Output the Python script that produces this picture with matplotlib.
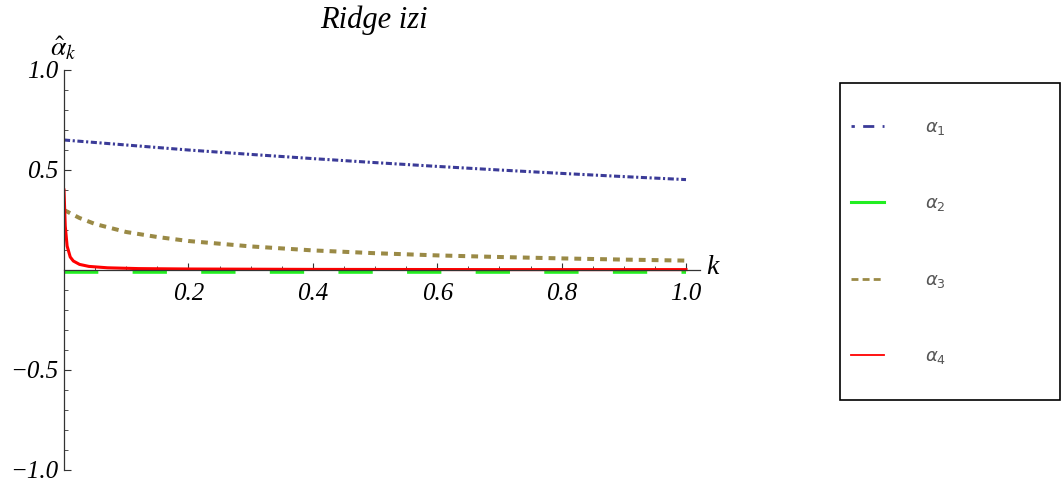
import numpy as np
import matplotlib
matplotlib.use("Agg")
import matplotlib.pyplot as plt
from matplotlib.lines import Line2D
from matplotlib.patches import Rectangle
from matplotlib.ticker import MultipleLocator

# values
k_grid = [0.0, 0.1, 0.2, 0.3, 0.4, 0.5, 0.6, 0.7, 0.8, 0.9, 1.0]
alpha1 = [0.65, 0.625, 0.60, 0.578, 0.557, 0.537, 0.518, 0.50, 0.483, 0.467, 0.452]

k_alpha2 = [0.0, 1.0]
alpha2 = [-0.01, -0.01]

k_alpha3 = [0.0, 0.025, 0.05, 0.1, 0.15, 0.2, 0.3, 0.4, 0.5, 0.6, 0.7, 0.8, 0.9, 1.0]
alpha3 = [0.30, 0.26, 0.23, 0.19, 0.165, 0.145, 0.118, 0.098, 0.084, 0.073, 0.065, 0.058, 0.052, 0.047]

k_alpha4 = [0.0, 0.002, 0.005, 0.01, 0.015, 0.025, 0.04, 0.07, 0.12, 0.2, 0.4, 0.7, 1.0]
alpha4 = [0.40, 0.22, 0.12, 0.065, 0.045, 0.028, 0.018, 0.011, 0.007, 0.005, 0.003, 0.002, 0.002]

labels = [r"$\alpha_1$", r"$\alpha_2$", r"$\alpha_3$", r"$\alpha_4$"]
colors = ["#3b3b98", "#22ee22", "#9a8a46", "#ff0000"]

xticks = [0.2, 0.4, 0.6, 0.8, 1.0]
xticklabels = ["0.2", "0.4", "0.6", "0.8", "1.0"]
yticks = [-1.0, -0.5, 0.5, 1.0]
yticklabels = ["\u22121.0", "\u22120.5", "0.5", "1.0"]

serif = "Liberation Serif"
W, H = 1063, 488
tick_font = {"family": serif, "style": "italic", "size": 18}

fig = plt.figure(figsize=(W / 100, H / 100), dpi=100)
ax = fig.add_axes([64 / W, 18 / H, 636 / W, 400 / H])

ax.plot(k_grid, alpha1, color=colors[0], lw=2.2, dashes=(2.0, 0.85, 0.7, 0.85))
ax.plot(k_alpha2, alpha2, color=colors[1], lw=2.6, dashes=(9.5, 9.5))
ax.plot(k_alpha3, alpha3, color=colors[2], lw=2.9, dashes=(1.7, 1.5))
ax.plot(k_alpha4, alpha4, color=colors[3], lw=2.2)

ax.set_xlim(0, 636 / 622)
ax.set_ylim(-1, 1)

# axes through origin, Mathematica style
for side in ["top", "right"]:
    ax.spines[side].set_visible(False)
ax.spines["left"].set_position(("data", 0))
ax.spines["bottom"].set_position(("data", 0))
for side in ["left", "bottom"]:
    ax.spines[side].set_color("#333333")
    ax.spines[side].set_linewidth(0.9)

ax.set_xticks(xticks)
ax.set_xticklabels(xticklabels, fontdict=tick_font)
ax.set_yticks(yticks)
ax.set_yticklabels(yticklabels, fontdict=tick_font)
ax.xaxis.set_minor_locator(MultipleLocator(0.05))
ax.yaxis.set_minor_locator(MultipleLocator(0.1))
ax.tick_params(which="major", direction="in", length=5, width=0.8, color="#333333")
ax.tick_params(which="minor", direction="in", length=3, width=0.6, color="#333333")
ax.tick_params(axis="x", pad=9)
ax.tick_params(axis="y", pad=4)

fig.text(374 / W, 1 - 20 / H, "Ridge izi", family=serif, style="italic",
         fontsize=22, ha="center", va="center")
fig.text(706 / W, 1 - 268 / H, "k", family=serif, style="italic",
         fontsize=20, ha="left", va="center")
fig.text(50 / W, 1 - 48 / H, r"$\hat{\alpha}_k$", math_fontfamily="stix",
         fontsize=20, ha="left", va="center")

# legend box and its own sample lines
fig.patches.append(Rectangle((840 / W, 1 - 400 / H), 220 / W, 317 / H,
                             transform=fig.transFigure, fill=False,
                             edgecolor="black", linewidth=1.2))
handles = [
    Line2D([], [], color=colors[0], lw=2, dashes=(1.2, 3, 4, 3, 1.2, 3)),
    Line2D([], [], color=colors[1], lw=2.2),
    Line2D([], [], color=colors[2], lw=2, dashes=(2.5, 1.5)),
    Line2D([], [], color=colors[3], lw=1.3),
]
leg = fig.legend(handles, labels, loc="upper left",
                 bbox_to_anchor=(851 / W, 1 - 118 / H),
                 fontsize=13, labelcolor="#555555",
                 handlelength=1.8, handletextpad=2.3, labelspacing=3.18,
                 borderpad=0, borderaxespad=0, frameon=False)
for t in leg.get_texts():
    t.set_math_fontfamily("dejavusans")

fig.savefig("out.png", dpi=100)
